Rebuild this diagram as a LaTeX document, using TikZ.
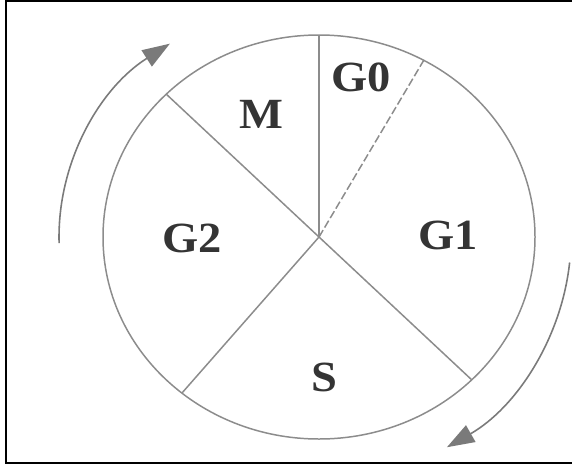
\documentclass[tikz,border=0pt]{standalone}
\usepackage{fontspec}
\setmainfont{Liberation Serif}
\usetikzlibrary{arrows.meta, calc}
\definecolor{cyline}{RGB}{140, 140, 140}
\definecolor{cyarrow}{RGB}{122, 122, 122}
\definecolor{cytext}{RGB}{52, 52, 52}

\begin{document}
\begin{tikzpicture}[
    phase/.style={text=cytext, font=\fontsize{24.5}{28}\selectfont\bfseries, xscale=1.08, inner sep=0pt},
    spoke/.style={cyline, line width=0.85pt},
    turn/.style={cyarrow, line width=0.9pt, -{Triangle[length=5.5mm, width=3.8mm]}}
  ]
  \useasboundingbox (0,0) rectangle (11.44,9.4);
  % frame
  \draw[black, line width=1.5pt] (11.44,0.14) -- (0.12,0.14) -- (0.12,9.4);
  \draw[black, line width=0.6pt] (0.12,9.38) -- (11.44,9.38);
  % cycle
  \coordinate (c) at (6.38,4.66);
  \draw[spoke] (c) ellipse [x radius=4.32, y radius=4.04];
  \coordinate (top) at ($(c)+(90:4.32 and 4.04)$);
  \coordinate (ul) at ($(c)+(135:4.32 and 4.04)$);
  \coordinate (lr) at ($(c)+(-45:4.32 and 4.04)$);
  \coordinate (ll) at ($(c)+(230.6:4.32 and 4.04)$);
  \coordinate (g0end) at ($(c)+(61:4.32 and 4.04)$);
  \draw[spoke] (c) -- (top);
  \draw[spoke] (ul) -- (lr);
  \draw[spoke] (c) -- (ll);
  \draw[spoke, dash pattern=on 0.16cm off 0.06cm] (c) -- (g0end);
  % labels
  \node[phase] (g0) at (7.22,7.86){G0};
  \node[phase] (m) at (5.22,7.12){M};
  \node[phase] (g2) at (3.84,4.64){G2};
  \node[phase] (g1) at (8.96,4.70){G1};
  \node[phase] (s) at (6.48,1.86){S};
  % direction
  \draw[turn] ($(c)+(181.5:5.2 and 4.72)$) arc[start angle=181.5, end angle=125, x radius=5.2, y radius=4.72];
  \draw[turn] ($(c)+(-6:5.04 and 4.88)$) arc[start angle=-6, end angle=-59.5, x radius=5.04, y radius=4.88];
\end{tikzpicture}
\end{document}
